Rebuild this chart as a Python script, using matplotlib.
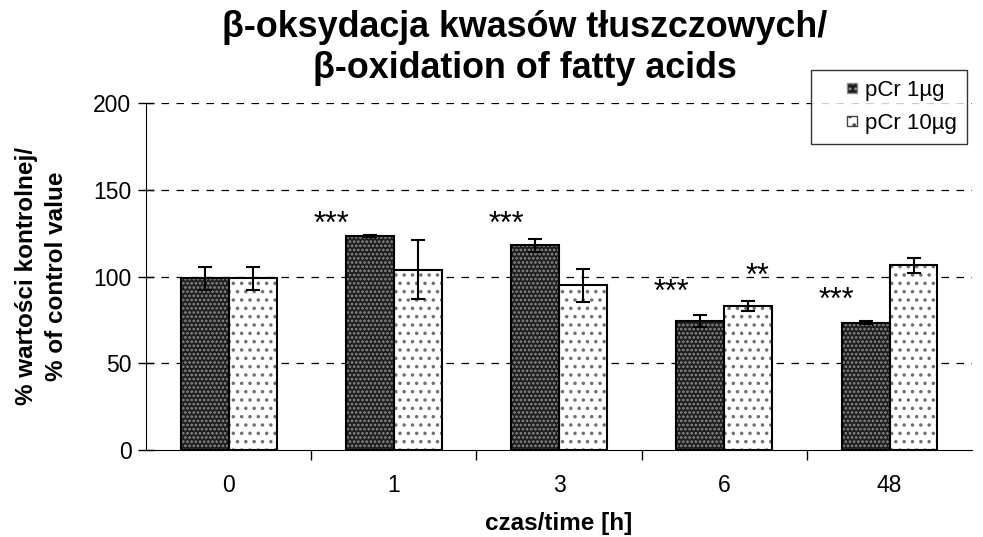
import numpy as np
import matplotlib
matplotlib.use("Agg")
from matplotlib import pyplot as plt
from matplotlib.patches import Patch, Rectangle
from matplotlib.legend_handler import HandlerPatch

plt.rcParams['font.family'] = ['Liberation Sans', 'DejaVu Sans']
plt.rcParams['hatch.linewidth'] = 1.3

times = ['0', '1', '3', '6', '48']
pcr1 = [99, 123.5, 118, 74.5, 73.5]
pcr1_err = [6.5, 0.5, 4, 3.3, 1]
pcr10 = [99, 104, 95, 83, 106.5]
pcr10_err = [6.5, 17, 9.5, 3, 4.3]
# stars: (category index, offset, height, text)
stars = [(1, -0.38, 134, '***'), (2, -0.32, 134, '***'), (3, -0.32, 95, '***'),
         (3, 0.20, 104, '**'), (4, -0.32, 90.5, '***')]

dark_face, dark_dot = '#1e1e1e', '#8c8c8c'
light_face, light_dot = 'white', '#707070'

fig = plt.figure(figsize=(9.83, 5.37), dpi=100)
ax = fig.add_axes([0.1485, 0.162, 0.8405, 0.6456])

x = np.arange(len(times))
w = 0.29

# bars: patterned fill first, black outline on top
ax.bar(x - w/2, pcr1, w, color=dark_face, edgecolor=dark_dot, hatch='....', linewidth=0, zorder=3)
ax.bar(x - w/2, pcr1, w, color='none', edgecolor='black', linewidth=1.5, zorder=4)
ax.bar(x + w/2, pcr10, w, color=light_face, edgecolor=light_dot, hatch='..', linewidth=0, zorder=3)
ax.bar(x + w/2, pcr10, w, color='none', edgecolor='black', linewidth=1.5, zorder=4)

ax.errorbar(x - w/2, pcr1, yerr=pcr1_err, fmt='none', ecolor='black', elinewidth=1.5,
            capsize=5, capthick=1.5, zorder=5)
ax.errorbar(x + w/2, pcr10, yerr=pcr10_err, fmt='none', ecolor='black', elinewidth=1.5,
            capsize=5, capthick=1.5, zorder=5)

# asterisk glyph sits high, so place by baseline
for i, off, h, s in stars:
    ax.text(i + off, h - 9, s, ha='center', va='baseline', fontsize=22, zorder=6)

ax.set_xlim(-0.5, len(times) - 0.5)
ax.set_ylim(0, 200)
ax.set_yticks([0, 50, 100, 150, 200])
ax.set_xticks(x)
ax.set_xticklabels(times)
ax.set_xticks(np.arange(0.5, len(times) - 0.5, 1), minor=True)
ax.tick_params(axis='x', which='major', length=0, labelsize=16.5, pad=17)
ax.tick_params(axis='x', which='minor', length=7, width=1, direction='out')
ax.tick_params(axis='y', direction='inout', length=11, width=1, labelsize=16.5, pad=5)

for yv in [50, 100, 150, 200]:
    ax.axhline(yv, color='black', linestyle=(0, (6, 6)), linewidth=0.9, zorder=1)

ax.spines['top'].set_visible(False)
ax.spines['right'].set_visible(False)

fig.text(0.568, 0.026, 'czas/time [h]', ha='center', va='center', fontsize=17.5,
         fontweight='bold')
fig.text(0.042, 0.486, '% wartości kontrolnej/\n% of control value', ha='center',
         va='center', rotation=90, fontsize=17.5, fontweight='bold', linespacing=1.4)

fig.text(0.534, 0.911, 'β-oksydacja kwasów tłuszczowych/\nβ-oxidation of fatty acids',
         ha='center', va='center', fontsize=25.8, fontweight='bold', linespacing=1.22)


def small_square(legend, orig_handle, xdescent, ydescent, width, height, fontsize):
    s = 0.45 * fontsize
    return Rectangle((width - s - xdescent, (height - s) / 2 - ydescent), s, s)


handles = [Patch(facecolor=dark_face, edgecolor=dark_dot, hatch='...', label='pCr 1µg'),
           Patch(facecolor=light_face, edgecolor='#444444', hatch='..', label='pCr 10µg')]
leg = fig.legend(handles=handles, loc='upper left', bbox_to_anchor=(0.825, 0.87),
                 frameon=True, fancybox=False, shadow=False, fontsize=16,
                 handlelength=1.6, handletextpad=0.4, borderpad=0.45, labelspacing=0.55,
                 borderaxespad=0,
                 handler_map={Patch: HandlerPatch(patch_func=small_square)})
leg.get_frame().set_edgecolor('black')
leg.get_frame().set_linewidth(1)

fig.savefig('out.png', dpi=100)
